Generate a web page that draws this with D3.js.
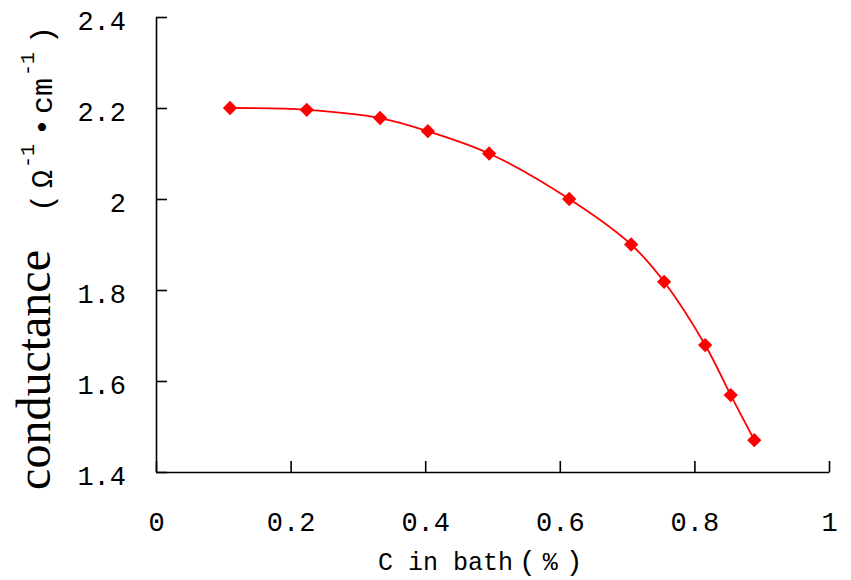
<!DOCTYPE html>
<html><head><meta charset="utf-8">
<script src="https://cdn.jsdelivr.net/npm/d3@7"></script>
<style>html,body{margin:0;padding:0;background:#fff;}</style>
</head><body>
<svg id="chart" width="851" height="580"></svg>
<script>
const cValues = [0.11, 0.224, 0.333, 0.404, 0.495, 0.614, 0.706, 0.755, 0.816, 0.854, 0.889];
const conductance = [2.2, 2.196, 2.178, 2.149, 2.1, 2.0, 1.9, 1.818, 1.679, 1.569, 1.47];
const xTicks = [0, 0.2, 0.4, 0.6, 0.8, 1];
const xTickLabels = ["0", "0.2", "0.4", "0.6", "0.8", "1"];
const yTicks = [1.4, 1.6, 1.8, 2.0, 2.2, 2.4];
const yTickLabels = ["1.4", "1.6", "1.8", "2", "2.2", "2.4"];

const svg = d3.select("#chart");
const x = d3.scaleLinear().domain([0, 1]).range([156, 829]);
const y = d3.scaleLinear().domain([1.4, 2.4]).range([472, 17]);
const mono = "'Liberation Mono','DejaVu Sans Mono',monospace";

const yAxis = d3.axisLeft(y).tickValues(yTicks)
  .tickFormat((d, i) => yTickLabels[i]).tickSizeInner(-11).tickSizeOuter(0).tickPadding(30);
const xAxis = d3.axisBottom(x).tickValues(xTicks)
  .tickFormat((d, i) => xTickLabels[i]).tickSizeInner(-11).tickSizeOuter(0).tickPadding(40);

const gy = svg.append("g").attr("transform", `translate(${x(0)},0)`).call(yAxis);
const gx = svg.append("g").attr("transform", `translate(0,${y(1.4)})`).call(xAxis);
[gx, gy].forEach(g => {
  g.selectAll("path.domain").attr("stroke", "#000").attr("stroke-width", 1.6);
  g.selectAll(".tick line").attr("stroke", "#000").attr("stroke-width", 1.6);
  g.selectAll(".tick text").attr("font-family", mono).attr("font-size", 27)
    .attr("fill", "#000");
});
gy.selectAll(".tick text").attr("dy", "0.45em");

const data = cValues.map((c, i) => ({c, v: conductance[i]}));
const line = d3.line().x(d => x(d.c)).y(d => y(d.v)).curve(d3.curveCatmullRom.alpha(0.5));
svg.append("path").datum(data).attr("d", line)
  .attr("fill", "none").attr("stroke", "#ff0000").attr("stroke-width", 1.8);

const sym = d3.symbol().type(d3.symbolDiamond2).size(130);
svg.append("g").selectAll("path").data(data).join("path")
  .attr("transform", d => `translate(${x(d.c)},${y(d.v)})`)
  .attr("d", sym).attr("fill", "#ff0000");

// x-axis title
const xt = svg.append("text").attr("x", 378).attr("y", 570).attr("text-anchor", "start")
  .attr("font-family", mono).attr("font-size", 25).attr("fill", "#000");
xt.append("tspan").text("C in bath");
xt.append("tspan").attr("dx", 6).attr("font-size", 28).text("(");
xt.append("tspan").attr("dx", 7).text("%");
xt.append("tspan").attr("dx", 8).attr("font-size", 28).text(")");

// y-axis title
svg.append("text").attr("transform", "translate(50,370) rotate(-90)")
  .attr("text-anchor", "middle").attr("font-family", "'Liberation Serif','Times New Roman',serif")
  .attr("font-size", 48).attr("fill", "#000").text("conductance");

const yu = svg.append("text").attr("transform", "translate(52,212) rotate(-90)")
  .attr("text-anchor", "start").attr("font-family", mono)
  .attr("font-size", 30).attr("fill", "#000");
yu.append("tspan").text("(");
yu.append("tspan").attr("dx", 6).text("Ω");
yu.append("tspan").attr("dx", 2).attr("dy", -18).attr("font-size", 20).text("-1");
yu.append("tspan").attr("dx", 8).attr("dy", 18).text("•");
yu.append("tspan").attr("dx", 4).text("cm");
yu.append("tspan").attr("dx", 2).attr("dy", -18).attr("font-size", 20).text("-1");
yu.append("tspan").attr("dx", 8).attr("dy", 18).text(")");
</script>
</body></html>
